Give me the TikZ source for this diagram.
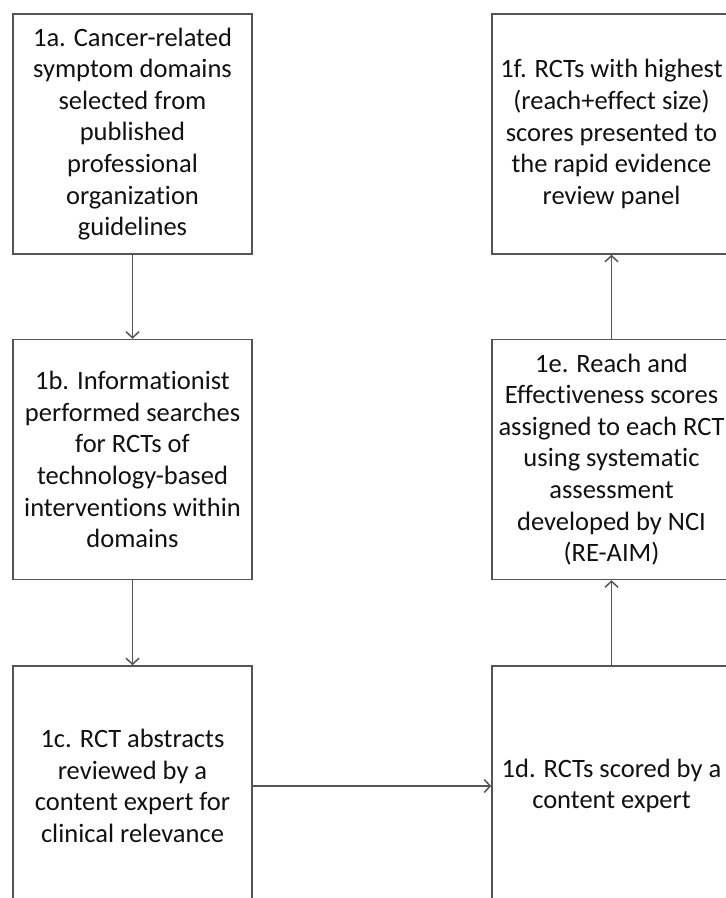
\documentclass[tikz,border=0pt]{standalone}
\usepackage{fontspec}
\setmainfont[Ligatures=NoCommon]{Carlito}
\usetikzlibrary{arrows.meta}
\definecolor{linegray}{HTML}{555555}
\definecolor{txt}{HTML}{111111}
\tikzset{
  stepbox/.style={draw=linegray, line width=1.5pt, minimum width=239pt, minimum height=240pt, inner sep=0pt, fill=white},
  steptext/.style={align=center, text=txt, inner sep=0pt, font=\fontsize{26.5}{31.6}\selectfont},
  flow/.style={draw=linegray, line width=1.5pt, -{Straight Barb[length=6pt,width=13pt]}}
}
\begin{document}
\begin{tikzpicture}[x=1pt,y=1pt]
\useasboundingbox (0,0) rectangle (726,898);
\clip (0,0) rectangle (726,898);
% left column
\node[stepbox] (b1a) at (132.5,764) {};
\node[stepbox] (b1b) at (132.5,438.5) {};
\node[stepbox] (b1c) at (132.5,112) {};
% right column
\node[stepbox] (b1f) at (611.5,764) {};
\node[stepbox] (b1e) at (611.5,438.5) {};
\node[stepbox] (b1d) at (611.5,112) {};
% texts
\node[steptext] (t1a) at (b1a.center) {1a. Cancer-related\\symptom domains\\selected from\\published\\professional\\organization\\guidelines};
\node[steptext] (t1b) at (b1b.center) {1b. Informationist\\performed searches\\for RCTs of\\technology-based\\interventions within\\domains};
\node[steptext] (t1c) at (b1c.center) {1c. RCT abstracts\\reviewed by a\\content expert for\\clinical relevance};
\node[steptext] (t1d) at (b1d.center) {1d. RCTs scored by a\\content expert};
\node[steptext] (t1e) at (b1e.center) {1e. Reach and\\Effectiveness scores\\assigned to each RCT\\using systematic\\assessment\\developed by NCI\\(RE-AIM)};
\node[steptext] (t1f) at (b1f.center) {1f. RCTs with highest\\(reach+effect size)\\scores presented to\\the rapid evidence\\review panel};
% connectors
\draw[flow] (b1a.south) -- (b1b.north);
\draw[flow] (b1b.south) -- (b1c.north);
\draw[flow] (b1c.east) -- (b1d.west);
\draw[flow] (b1d.north) -- (b1e.south);
\draw[flow] (b1e.north) -- (b1f.south);
\end{tikzpicture}
\end{document}
